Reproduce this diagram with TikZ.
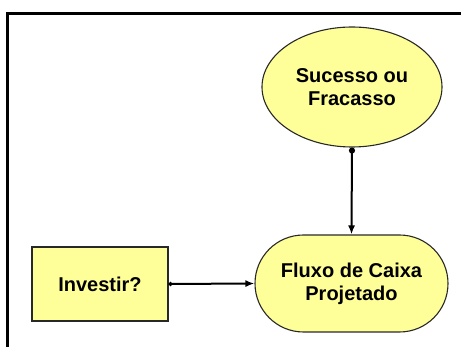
\documentclass[tikz,border=0pt]{standalone}
\usepackage{fontspec}
\setmainfont{Liberation Sans}
\usetikzlibrary{shapes.geometric,shapes.misc,arrows.meta}
\definecolor{nodefill}{RGB}{255,255,153}
\definecolor{nodeline}{RGB}{40,40,40}
\tikzset{
  base/.style={draw=nodeline, fill=nodefill, line width=1.1pt, inner sep=0pt, align=center,
    font=\fontsize{20}{23}\selectfont\bfseries},
  chance/.style={base, ellipse, minimum width=180pt, minimum height=120pt},
  valuenode/.style={base, rounded rectangle, minimum width=193pt, minimum height=97pt},
  decision/.style={base, rectangle, minimum width=136pt, minimum height=74pt},
  link/.style={line width=2pt, {Circle[length=6pt]}-{Latex[length=9pt,width=7pt]}},
  linksmall/.style={line width=2pt, {Circle[length=4pt]}-{Latex[length=9pt,width=7pt]}},
  frameline/.style={line width=3pt, line cap=rect}
}
\begin{document}
\begin{tikzpicture}[x=1pt,y=-1pt]
\useasboundingbox (0,0) rectangle (461,347);
\coordinate (fa) at (7.5,348);
\coordinate (fb) at (7.5,13.5);
\coordinate (fc) at (462,13.5);
\draw[frameline] (fa) -- (fb) -- (fc);
\node[chance] (s) at (352,87) {Sucesso ou\\Fracasso};
\node[valuenode] (f) at (351.5,283.5) {Fluxo de Caixa\\Projetado};
\node[decision] (i) at (100,284) {Investir?};
\draw[link] (s.south) -- (f.north);
\draw[linksmall] (i.east) -- (f.west);
\end{tikzpicture}
\end{document}
